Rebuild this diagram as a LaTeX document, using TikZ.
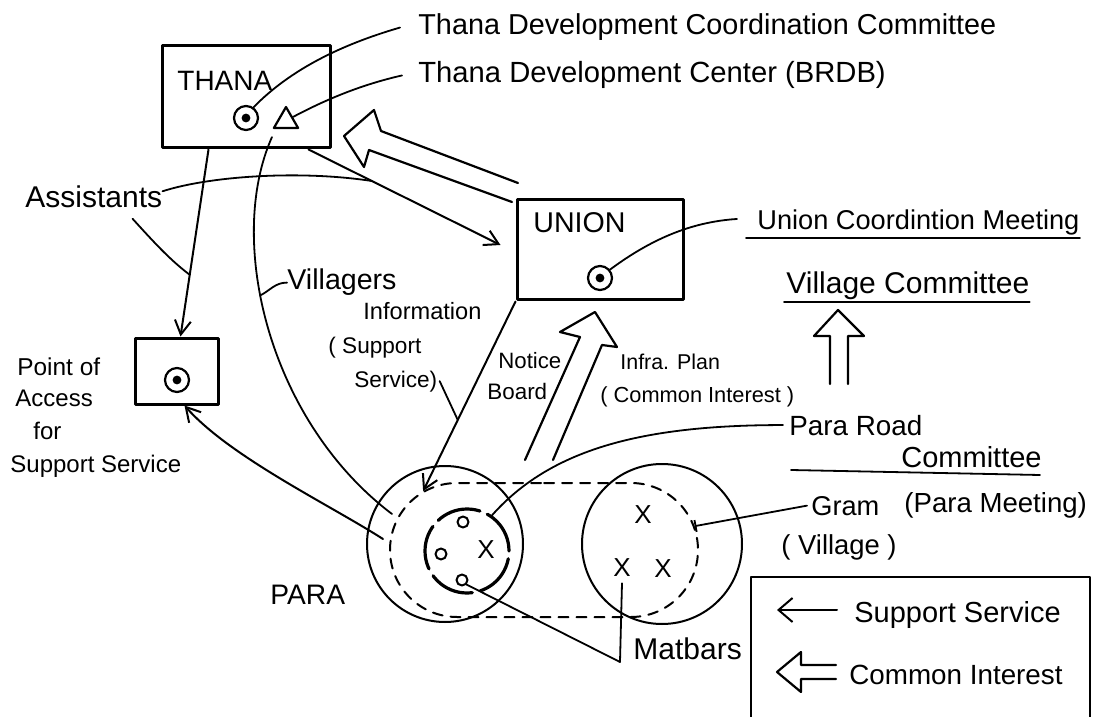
\documentclass[tikz,border=0pt]{standalone}
\usepackage{fontspec}
\setmainfont{Liberation Sans}
\usetikzlibrary{arrows.meta,shapes.geometric,shapes.misc,calc}
\begin{document}
\begin{tikzpicture}[x=0.5pt, y=-0.5pt, >={Straight Barb[length=7pt,width=8pt]}, line join=round, line cap=round,
  box/.style={draw, line width=1.5pt, inner sep=0pt},
  bullseye/.style={circle, draw, line width=1.1pt, minimum size=12pt, inner sep=0pt,
    path picture={\fill (path picture bounding box.center) circle (2.2pt);}},
  txt/.style={font=\fontsize{#1}{#1}\selectfont, inner sep=0pt, anchor=base west},
  cross/.style={font=\fontsize{13}{13}\selectfont, inner sep=0pt},
  matbar/.style={circle, draw, line width=1pt, minimum size=5.5pt, inner sep=0pt},
  lead/.style={line width=0.9pt},
  conn/.style={line width=1pt, ->},
  hollow/.style={line width=1.1pt}]
  \useasboundingbox (0,0) rectangle (1094,717);

  % 1. Boxes: THANA, UNION, point of access
  \node[box, minimum width=84pt, minimum height=51pt] (thana) at (246,97) {};
  \node[txt=14] (thanatxt) at (177,91) {THANA};
  \node[bullseye] (thanadot) at (246,118) {};
  \node[draw, line width=1.1pt, regular polygon, regular polygon sides=3, minimum size=14pt, inner sep=0pt] (tri) at (286,121) {};

  \node[box, minimum width=83pt, minimum height=50pt] (union) at (600,250) {};
  \node[txt=14.3] (uniontxt) at (533,233) {UNION};
  \node[bullseye] (uniondot) at (600,278) {};

  \node[box, minimum width=41.5pt, minimum height=33pt] (access) at (176.5,371) {};
  \node[bullseye] (accdot) at (177,380) {};

  % 2. PARA and Gram circles
  \node[circle, draw, line width=1pt, minimum size=78pt, inner sep=0pt] (para) at (445,544) {};
  \node[circle, draw, line width=1pt, minimum size=80pt, inner sep=0pt] (gramc) at (662,544) {};
  \node[rounded rectangle, draw, line width=1pt, dash pattern=on 5pt off 4pt, minimum width=154pt, minimum height=67pt, inner sep=0pt] (band) at (544,550) {};
  \node[circle, draw, line width=1.6pt, dash pattern=on 22.4pt off 4pt, minimum size=42pt, inner sep=0pt] (ring) at (467,551) {};
  \node[matbar] (m1) at (463,522) {};
  \node[matbar] (m2) at (441,554) {};
  \node[matbar] (m3) at (462,580) {};
  \node[cross] (px) at (486,550) {X};
  \node[cross] (gx1) at (643,515) {X};
  \node[cross] (gx2) at (622,568) {X};
  \node[cross] (gx3) at (663,569) {X};

  % 3. Labels
  \node[txt=14.4] (tdcc) at (418,35) {Thana Development Coordination Committee};
  \node[txt=14.6] (brdb) at (418,83) {Thana Development Center (BRDB)};
  \node[txt=15] (assist) at (25,208) {Assistants};
  \node[txt=14.3] (vlg) at (287,290) {Villagers};
  \node[txt=11.8] (info) at (363,320) {Information};
  \node[txt=11.3] (supp) at (328,353) {( Support};
  \node[txt=11.3] (serv) at (354,387) {Service)};
  \node[txt=11.1] (notice) at (498,368) {Notice};
  \node[txt=11.2] (board) at (487,400) {Board};
  \node[txt=10.7] (infra) at (620,370) {Infra. Plan};
  \node[txt=10.9] (cint) at (600,402) {( Common Interest )};
  \node[txt=12.2] (poa1) at (17,375) {Point of};
  \node[txt=12] (poa2) at (15,406) {Access};
  \node[txt=12] (poa3) at (33,439) {for};
  \node[txt=12] (poa4) at (10,472) {Support Service};
  \node[txt=14.1] (paratxt) at (270,604) {PARA};
  \node[txt=13.6] (ucm) at (757,230) {Union Coordintion Meeting};
  \node[txt=15] (vc) at (786,293) {Village Committee};
  \node[txt=13.9] (pararoad) at (789,435) {Para Road};
  \node[txt=14.5] (comm) at (901,467) {Committee};
  \node[txt=13.8] (pmeet) at (904,512) {(Para Meeting)};
  \node[txt=13.6] (gram) at (811,515) {Gram};
  \node[txt=13.7] (village) at (781,554) {( Village )};
  \node[txt=15] (matbars) at (633,659) {Matbars};

  % 4. Underlines
  \draw[lead] ($(ucm.base west)+(-11,8)$) -- ($(ucm.base east)+(0,8)$);
  \draw[lead] ($(vc.base west)+(-2,9)$) -- ($(vc.base east)+(0,9)$);
  \draw[lead] ($(pararoad.base west |- comm.base)+(2,3)$) -- ($(comm.base east)+(-2,8)$);

  % 5. Support service arrows
  \draw[conn] ([xshift=24pt]thana.south west) -- coordinate[pos=0.67] (ta) ([xshift=2pt]access.north);
  \draw[conn] ([xshift=-11.5pt]thana.south east) -- coordinate[pos=0.33] (tu) ([xshift=-7.5pt,yshift=2.5pt]union.west);
  \draw[conn] (union.south west) -- coordinate[pos=0.625] (up) (band.154);
  \coordinate (pa) at (383,539);
  \draw[conn] (pa) .. controls (330,505) and (230,457) .. ([xshift=4pt]access.south);

  % 6. Leaders
  \draw[lead] (thanadot.55) .. controls (290,70) and (340,45) .. ([xshift=-9pt]tdcc.west);
  \draw[lead] (tri.side 3) .. controls (325,100) and (360,85) .. ([xshift=-8pt]brdb.west);
  \draw[lead] ([yshift=3pt]assist.east) .. controls (210,176) and (300,170) .. (tu);
  \draw[lead] ([xshift=-15pt,yshift=-5pt]assist.south east) .. controls +(20,22) and +(-20,-15) .. (ta);
  \coordinate (vil) at (392,514);
  \draw[lead] ([yshift=-4pt]tri.corner 2) .. controls (226,240) and (268,420) .. coordinate[pos=0.42] (vlc) (vil);
  \draw[lead] (vlg.west) .. controls +(-12,0) and +(10,-5) .. (vlc);
  \draw[lead] ([xshift=1pt]serv.east) -- (up);
  \draw[lead] (uniondot.40) .. controls (650,240) and (690,222) .. ([xshift=-10pt,yshift=2pt]ucm.west);
  \draw[lead] (ring.55) .. controls (550,450) and (640,425) .. ([xshift=-3pt]pararoad.west);
  \draw[lead, -{Bar[width=6pt]}] ([xshift=-2pt]gram.west) -- (band.9);
  \coordinate (matv) at (620,662);
  \draw[lead] (m3.-45) -- (matv) -- ([yshift=-3pt]gx2.south);

  % 7. Common interest arrows
  \draw[hollow] (518,183) -- (381,131) -- (374,110) -- (344,136) -- (364,167) -- (369,150) -- (512,202);
  \draw[hollow] (525,460) -- (580,337) -- (560,332) -- (595,312) -- (617,347) -- (602,345) -- (553,460);
  \draw[hollow] (830,384) -- (830,336) -- (814,336) -- (838,310) -- (864,336) -- (848,336) -- (848,384);

  % 8. Legend
  \draw[line width=1pt] (751,717) -- (751,577) -- (1090,577) -- (1090,717);
  \node[txt=14.5] (lss) at (854,622) {Support Service};
  \node[txt=13.9] (lci) at (849,684) {Common Interest};
  \coordinate (la1) at (837,610);
  \coordinate (la2) at (777,610);
  \draw[line width=1pt, -{Straight Barb[length=7pt,width=12pt]}] (la1) -- (la2);
  \draw[hollow] (836,665) -- (801,665) -- (801,652) -- (777,672) -- (801,692) -- (801,679) -- (836,679);
\end{tikzpicture}
\end{document}
